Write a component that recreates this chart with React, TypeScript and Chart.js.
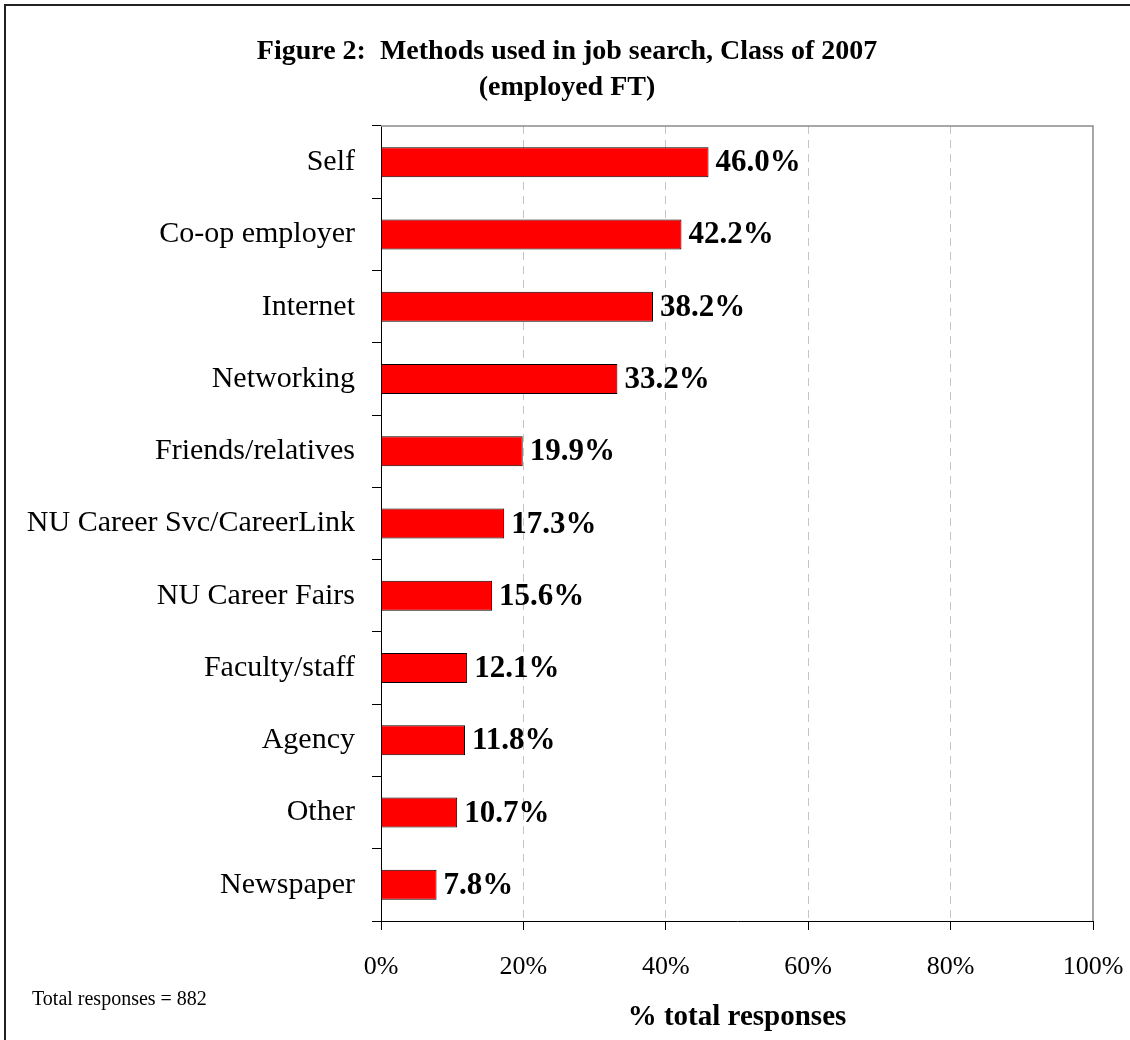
import React, { useEffect, useRef } from "react";
import { Chart, registerables } from "chart.js";

Chart.register(...registerables);

const categories = [
  "Self",
  "Co-op employer",
  "Internet",
  "Networking",
  "Friends/relatives",
  "NU Career Svc/CareerLink",
  "NU Career Fairs",
  "Faculty/staff",
  "Agency",
  "Other",
  "Newspaper",
];
const values = [46.0, 42.2, 38.2, 33.2, 19.9, 17.3, 15.6, 12.1, 11.8, 10.7, 7.8];
const xMin = 0;
const xMax = 100;
const xStep = 20;
const titleLines = ["Figure 2:  Methods used in job search, Class of 2007", "(employed FT)"];
const xAxisTitle = "% total responses";
const noteText = "Total responses = 882";

const FONT = '"Liberation Serif", "Times New Roman", serif';

export default function App() {
  const ref = useRef<HTMLCanvasElement | null>(null);

  useEffect(() => {
    if (!ref.current) return;

    const decor = {
      id: "decor",
      beforeDraw(chart: any) {
        const ctx = chart.ctx;
        ctx.save();
        ctx.fillStyle = "#ffffff";
        ctx.fillRect(0, 0, chart.width, chart.height);
        ctx.restore();
      },
      beforeDatasetsDraw(chart: any) {
        const { ctx, chartArea } = chart;
        ctx.save();
        ctx.strokeStyle = "#8a8a8a";
        ctx.lineWidth = 1.5;
        ctx.beginPath();
        ctx.moveTo(chartArea.left, chartArea.top);
        ctx.lineTo(chartArea.right, chartArea.top);
        ctx.lineTo(chartArea.right, chartArea.bottom);
        ctx.stroke();
        ctx.restore();
      },
      afterDraw(chart: any) {
        const { ctx, chartArea } = chart;
        ctx.save();
        // outer frame
        ctx.strokeStyle = "#222";
        ctx.lineWidth = 2;
        ctx.beginPath();
        ctx.moveTo(5, chart.height + 5);
        ctx.lineTo(5, 5);
        ctx.lineTo(chart.width + 5, 5);
        ctx.stroke();

        ctx.fillStyle = "#000";
        ctx.textBaseline = "middle";
        // title
        ctx.textAlign = "center";
        ctx.font = `bold 28px ${FONT}`;
        ctx.fillText(titleLines[0], 567, 52);
        ctx.fillText(titleLines[1], 567, 88);
        // x axis title
        ctx.font = `bold 29px ${FONT}`;
        ctx.fillText(xAxisTitle, (chartArea.left + chartArea.right) / 2, 1018);
        // note
        ctx.textAlign = "left";
        ctx.font = `20px ${FONT}`;
        ctx.fillText(noteText, 32, 1000);

        // data labels
        const meta = chart.getDatasetMeta(0);
        ctx.font = `bold 31px ${FONT}`;
        ctx.textAlign = "left";
        meta.data.forEach((bar: any, i: number) => {
          ctx.fillText(values[i].toFixed(1) + "%", bar.x + 7, bar.y + 1);
        });
        ctx.restore();
      },
    };

    const chart = new Chart(ref.current, {
      type: "bar",
      data: {
        labels: categories,
        datasets: [
          {
            data: values,
            backgroundColor: "#FF0000",
            borderColor: "#000000",
            borderWidth: 1,
            barPercentage: 0.415,
            categoryPercentage: 1,
          },
        ],
      },
      options: {
        indexAxis: "y",
        animation: false,
        responsive: false,
        devicePixelRatio: 1,
        layout: { padding: { left: 0, top: 126, right: 37, bottom: 0 } },
        plugins: {
          legend: { display: false },
          tooltip: { enabled: false },
          title: { display: false },
        },
        scales: {
          y: {
            type: "category",
            offset: true,
            grid: {
              offset: true,
              drawOnChartArea: false,
              drawTicks: true,
              tickLength: 9,
              tickColor: "#000",
              color: "#000",
              lineWidth: 1,
            },
            border: { display: true, color: "#000", width: 1 },
            ticks: {
              color: "#000",
              font: { family: FONT, size: 30 },
              padding: 17,
              autoSkip: false,
            },
            afterFit: (s: any) => {
              s.width = 381;
              s.paddingTop = 0;
              s.paddingBottom = 0;
            },
          },
          x: {
            type: "linear",
            min: xMin,
            max: xMax,
            ticks: {
              stepSize: xStep,
              callback: (v: any) => v + "%",
              color: "#000",
              font: { family: FONT, size: 26 },
              padding: 22,
              maxRotation: 0,
            },
            grid: {
              color: (c: any) =>
                c.tick && (c.tick.value === xMin || c.tick.value === xMax) ? "rgba(0,0,0,0)" : "#c4c4c4",
              lineWidth: 1,
              drawTicks: true,
              tickLength: 9,
              tickColor: "#000",
              tickWidth: 1,
            },
            border: { display: true, color: "#000", width: 1, dash: [8, 6] },
            afterFit: (s: any) => {
              s.height = 119;
              s.paddingLeft = 0;
              s.paddingRight = 0;
            },
          },
        },
      },
      plugins: [decor],
    });

    return () => chart.destroy();
  }, []);

  return (
    <div style={{ position: "absolute", left: 0, top: 0, width: 1130, height: 1040, background: "#fff" }}>
      <canvas ref={ref} width={1130} height={1040} style={{ display: "block" }} />
    </div>
  );
}
